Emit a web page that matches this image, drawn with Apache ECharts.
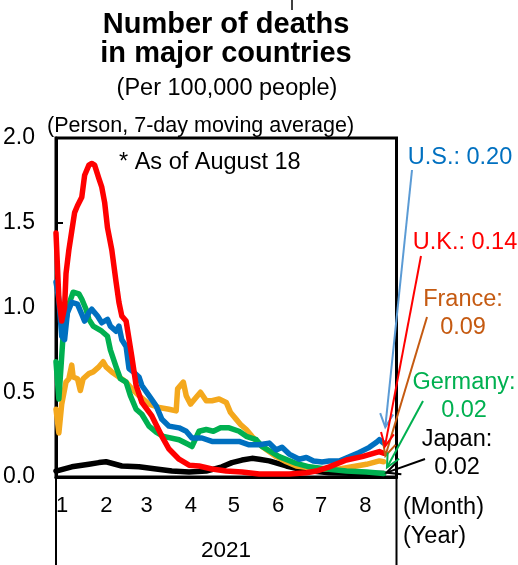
<!DOCTYPE html>
<html>
<head>
<meta charset="utf-8">
<script src="https://cdn.jsdelivr.net/npm/echarts@6/dist/echarts.min.js"></script>
<style>
html, body { margin: 0; padding: 0; background: #fff; }
#chart { width: 518px; height: 565px; }
</style>
</head>
<body>
<div id="chart"></div>
<script>
// x = days since Jan 1 2021, y = deaths per 100,000 (7-day moving average)
const ukDays = [0, 2, 4, 6, 7, 9, 11, 13, 15, 18, 20, 23, 25, 27, 30, 32, 34, 36, 39, 42, 44, 46, 49, 53, 56, 60, 67, 74, 79, 86, 93, 100, 109, 119, 130, 142, 163, 175, 182, 191, 203, 214, 226, 229];
const ukVals = [1.44, 1.05, 0.92, 1.00, 1.20, 1.34, 1.45, 1.56, 1.60, 1.65, 1.78, 1.84, 1.85, 1.84, 1.76, 1.71, 1.62, 1.47, 1.34, 1.15, 1.03, 0.95, 0.92, 0.71, 0.54, 0.44, 0.36, 0.24, 0.165, 0.105, 0.07, 0.065, 0.047, 0.035, 0.03, 0.018, 0.018, 0.025, 0.035, 0.06, 0.10, 0.12, 0.15, 0.14];

const usDays = [0, 2, 4, 6, 8, 11, 15, 18, 20, 23, 25, 29, 32, 36, 38, 42, 44, 46, 49, 51, 54, 58, 60, 65, 70, 74, 79, 86, 91, 95, 102, 109, 119, 128, 135, 142, 149, 154, 158, 163, 170, 175, 180, 186, 191, 198, 205, 212, 219, 224, 226, 229];
const usVals = [1.15, 1.05, 0.83, 0.81, 0.97, 1.03, 1.02, 0.96, 0.92, 0.97, 0.99, 0.95, 0.91, 0.93, 0.89, 0.86, 0.89, 0.81, 0.77, 0.64, 0.62, 0.59, 0.54, 0.48, 0.42, 0.34, 0.30, 0.29, 0.27, 0.23, 0.23, 0.21, 0.21, 0.21, 0.19, 0.19, 0.20, 0.16, 0.175, 0.135, 0.105, 0.115, 0.094, 0.088, 0.094, 0.094, 0.12, 0.145, 0.175, 0.205, 0.22, 0.20];

const frDays = [0, 2, 4, 7, 9, 11, 12, 15, 17, 19, 23, 26, 30, 33, 35, 39, 44, 49, 53, 58, 65, 72, 79, 84, 85, 89, 91, 94, 98, 101, 105, 109, 114, 119, 122, 126, 129, 133, 137, 144, 154, 161, 168, 184, 198, 207, 217, 226, 229];
const frVals = [0.40, 0.26, 0.43, 0.56, 0.58, 0.66, 0.59, 0.58, 0.51, 0.58, 0.61, 0.62, 0.65, 0.68, 0.65, 0.62, 0.59, 0.56, 0.52, 0.48, 0.43, 0.41, 0.40, 0.39, 0.52, 0.56, 0.48, 0.43, 0.47, 0.50, 0.45, 0.45, 0.46, 0.44, 0.38, 0.34, 0.31, 0.28, 0.24, 0.18, 0.12, 0.09, 0.065, 0.047, 0.047, 0.06, 0.075, 0.095, 0.09];

const deDays = [0, 2, 5, 9, 12, 16, 18, 21, 23, 26, 32, 36, 38, 42, 45, 49, 52, 56, 60, 65, 70, 75, 86, 93, 95, 100, 105, 110, 115, 121, 128, 133, 140, 144, 156, 168, 177, 189, 203, 217, 229];
const deVals = [0.68, 0.46, 0.84, 1.02, 1.09, 1.08, 1.05, 0.99, 0.93, 0.89, 0.86, 0.83, 0.75, 0.65, 0.58, 0.56, 0.48, 0.40, 0.37, 0.30, 0.265, 0.24, 0.22, 0.19, 0.18, 0.27, 0.28, 0.27, 0.29, 0.29, 0.27, 0.24, 0.22, 0.18, 0.12, 0.08, 0.06, 0.047, 0.035, 0.03, 0.02];

const jpDays = [0, 11, 23, 30, 35, 46, 58, 70, 81, 93, 105, 116, 123, 130, 137, 142, 149, 161, 170, 179, 191, 212, 229];
const jpVals = [0.035, 0.06, 0.075, 0.085, 0.09, 0.065, 0.06, 0.047, 0.035, 0.03, 0.035, 0.06, 0.085, 0.10, 0.11, 0.105, 0.095, 0.065, 0.047, 0.035, 0.025, 0.02, 0.02];

const monthStarts = [0, 31, 59, 90, 120, 151, 181, 212];
const monthLabels = ['1', '2', '3', '4', '5', '6', '7', '8'];
const yearLabel = '2021';

const FONT = '"Liberation Sans", Arial, sans-serif';

function zip(days, vals) {
    return days.map((d, i) => [d, vals[i]]);
}

// drawing order: later ones on top
const countries = [
    { name: 'Japan', label: 'Japan:', days: jpDays, vals: jpVals, color: '#000000', textColor: '#000000', arrowColor: '#000000', pos: [457, 454], from: [425, 459], gap: 3, wrap: true },
    { name: 'France', label: 'France:', days: frDays, vals: frVals, color: '#F4A81D', textColor: '#C55A11', arrowColor: '#C55A11', pos: [463, 314], from: [427, 317], gap: 6, wrap: true },
    { name: 'Germany', label: 'Germany:', days: deDays, vals: deVals, color: '#00B050', textColor: '#00B050', arrowColor: '#00B050', pos: [464, 397], from: [423, 401], gap: 7, wrap: true },
    { name: 'U.S.', label: 'U.S.:', days: usDays, vals: usVals, color: '#0070C0', textColor: '#0070C0', arrowColor: '#5B9BD5', pos: [460, 158], from: [412, 170], gap: 16, wrap: false },
    { name: 'U.K.', label: 'U.K.:', days: ukDays, vals: ukVals, color: '#FF0000', textColor: '#FF0000', arrowColor: '#FF0000', pos: [465, 243], from: [421, 256], gap: 7, wrap: false }
];

const chart = echarts.init(document.getElementById('chart'));

chart.setOption({
    animation: false,
    grid: {
        left: 56, right: 121.5, top: 138, bottom: 88,
        show: true, borderColor: '#000', borderWidth: 3
    },
    xAxis: {
        type: 'value', min: 0, max: 238,
        axisLine: { show: true, onZero: false, lineStyle: { color: '#000', width: 3 } },
        axisTick: { show: false },
        splitLine: { show: false },
        axisLabel: {
            customValues: monthStarts,
            formatter: v => monthLabels[monthStarts.indexOf(v)],
            align: 'left', margin: 18,
            color: '#000', fontSize: 22, fontFamily: FONT
        }
    },
    yAxis: {
        type: 'value', min: 0, max: 2, interval: 0.5,
        axisLine: { show: true, lineStyle: { color: '#000', width: 3 } },
        axisTick: { show: true, inside: true, length: 7, lineStyle: { color: '#000', width: 2 } },
        splitLine: { show: false },
        axisLabel: {
            formatter: v => v.toFixed(1), margin: 21,
            color: '#000', fontSize: 23, fontFamily: FONT
        }
    },
    series: countries.map(c => ({
        name: c.name, type: 'line',
        data: zip(c.days, c.vals),
        showSymbol: false, symbol: 'none',
        lineStyle: { color: c.color, width: 5.5, join: 'round', cap: 'round' }
    }))
});

// annotations: titles, notes, labels with arrows pointing at each line's last point
const texts = [
    { x: 226, y: 39.5, text: 'Number of deaths\nin major countries', size: 29, weight: 'bold', lh: 29, align: 'center' },
    { x: 227, y: 88.5, text: '(Per 100,000 people)', size: 23.5, align: 'center' },
    { x: 47, y: 126, text: '(Person, 7-day moving average)', size: 21.5, align: 'left' },
    { x: 119, y: 163, text: '* As of August 18', size: 23.5, align: 'left' },
    { x: 403, y: 508, text: '(Month)', size: 23.5, align: 'left' },
    { x: 403, y: 537, text: '(Year)', size: 23.5, align: 'left' },
    { x: 226, y: 551, text: yearLabel, size: 22.5, align: 'center' }
];

const graphics = texts.map(t => ({
    type: 'text', x: t.x, y: t.y, z: 100,
    style: {
        text: t.text, fill: '#000', fontSize: t.size, fontFamily: FONT,
        fontWeight: t.weight || 'normal', lineHeight: t.lh || t.size * 1.2,
        align: t.align, verticalAlign: 'middle'
    }
}));

// small tick at top and the year bracket lines below the axis
graphics.push({ type: 'line', z: 100, shape: { x1: 292, y1: 0, x2: 292, y2: 10 }, style: { stroke: '#000', lineWidth: 1.5 } });
graphics.push({ type: 'line', z: 100, shape: { x1: 56, y1: 477, x2: 56, y2: 565 }, style: { stroke: '#000', lineWidth: 2 } });
graphics.push({ type: 'line', z: 100, shape: { x1: 396.5, y1: 477, x2: 396.5, y2: 565 }, style: { stroke: '#000', lineWidth: 2 } });

countries.forEach(c => {
    const last = c.vals[c.vals.length - 1];
    const txt = c.label + (c.wrap ? '\n' : ' ') + last.toFixed(2);
    graphics.push({
        type: 'text', x: c.pos[0], y: c.pos[1], z: 100,
        style: {
            text: txt, fill: c.textColor, fontSize: 23.5, fontFamily: FONT,
            lineHeight: 28, align: 'center', verticalAlign: 'middle'
        }
    });
    const end = chart.convertToPixel({ gridIndex: 0 }, [c.days[c.days.length - 1], last]);
    const dx = c.from[0] - end[0], dy = c.from[1] - end[1];
    const len = Math.hypot(dx, dy);
    const tip = [end[0] + dx / len * c.gap, end[1] + dy / len * c.gap];
    const ang = Math.atan2(dy, dx);
    const head = 15, spread = 0.45;
    const a1 = [tip[0] + head * Math.cos(ang + spread), tip[1] + head * Math.sin(ang + spread)];
    const a2 = [tip[0] + head * Math.cos(ang - spread), tip[1] + head * Math.sin(ang - spread)];
    graphics.push({ type: 'line', z: 101, shape: { x1: c.from[0], y1: c.from[1], x2: tip[0], y2: tip[1] }, style: { stroke: c.arrowColor, lineWidth: 2 } });
    graphics.push({ type: 'polyline', z: 101, shape: { points: [a1, tip, a2] }, style: { stroke: c.arrowColor, fill: null, lineWidth: 2 } });
});

chart.setOption({ graphic: graphics });
</script>
</body>
</html>
